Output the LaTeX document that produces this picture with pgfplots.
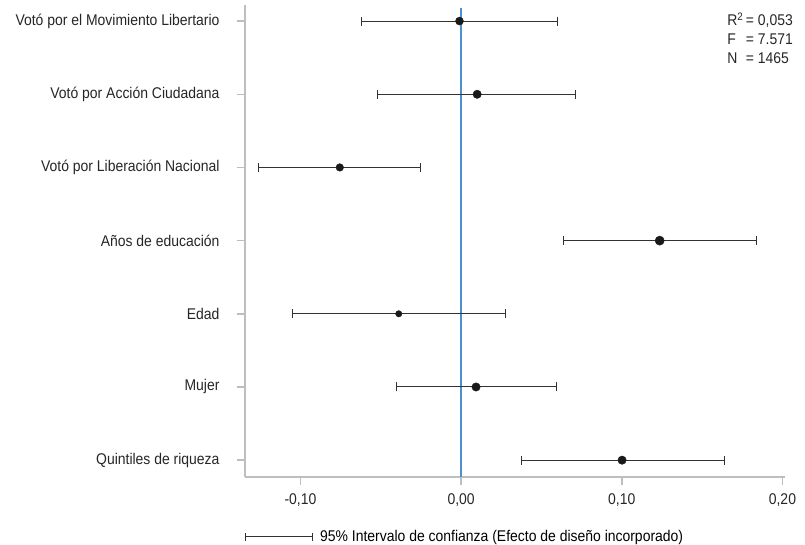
\documentclass[border=0pt]{standalone}
\usepackage{pgfplots}
\usepackage{pgfplotstable}
\pgfplotsset{compat=1.18}
\usepackage{fontspec}
\setmainfont{Liberation Sans}[FakeStretch=0.9]
\definecolor{axgray}{RGB}{190,190,190}
\definecolor{zeroblue}{RGB}{74,144,210}
\definecolor{barc}{RGB}{50,50,50}
\newcommand\lbl{\fontsize{15.5}{18}\selectfont}
\pgfplotstableread{
y x ep em s
6 -0.0010 0.0610 0.0610 4.0
5 0.0100 0.0610 0.0620 4.2
4 -0.0755 0.0505 0.0505 3.8
3 0.1236 0.0600 0.0600 4.6
2 -0.0388 0.0666 0.0661 3.2
1 0.0093 0.0501 0.0495 4.2
0 0.1002 0.0638 0.0629 4.2
}\data
\begin{document}
\begin{tikzpicture}
\path[use as bounding box] (0,0) rectangle (805pt,545pt);
\begin{axis}[
  at={(245pt,68pt)}, anchor=south west,
  scale only axis, width=540pt, height=472pt,
  xmin=-0.1345, xmax=0.2016, ymin=-0.23, ymax=6.22,
  axis x line*=bottom, axis y line*=left,
  axis line style={axgray, line width=1.5pt, -},
  tick align=outside, major tick length=8pt,
  tick style={axgray, line width=1.5pt},
  xtick={-0.1,0,0.1,0.2},
  xticklabels={{-0,10},{0,00},{0,10},{0,20}},
  ytick={0,1,2,3,4,5,6},
  yticklabels={Quintiles de riqueza, Mujer, Edad, Años de educación, Votó por Liberación Nacional, Votó por Acción Ciudadana, Votó por el Movimiento Libertario},
  ticklabel style={font=\lbl, text=black!85},
  yticklabel style={xshift=-14pt},
  xticklabel style={yshift=-5pt},
  legend style={at={(0,-0.127)}, anchor=west, draw=none, fill=none, inner sep=0pt, font=\lbl,
    nodes={inner xsep=7pt}},
  legend cell align=left,
  clip=false,
]
\addplot[zeroblue, line width=1.4pt, forget plot] coordinates {(0,-0.23) (0,6.18)};
\addplot[draw=none, mark=none,
  legend image code/.code={
    \draw[barc, line width=1pt] (0pt,0pt) -- (67pt,0pt);
    \draw[barc, line width=1pt] (0pt,-4pt) -- (0pt,4pt);
    \draw[barc, line width=1pt] (67pt,-4pt) -- (67pt,4pt);
  },
  error bars/.cd, x dir=both, x explicit,
  error mark=|,
  error bar style={draw=barc, line width=1pt},
  error mark options={draw=barc, line width=1pt, mark size=4.5pt}]
  table[x=x, y=y, x error plus=ep, x error minus=em] {\data};
\addlegendentry{95\% Intervalo de confianza (Efecto de diseño incorporado)}
\addplot[scatter, only marks, mark=*, forget plot,
  scatter/use mapped color={draw=black!90, fill=black!90},
  visualization depends on={\thisrow{s} \as \ms},
  scatter/@pre marker code/.append style={/tikz/mark size=\ms pt}]
  table[x=x, y=y] {\data};
\end{axis}
\node[anchor=north east, inner sep=0pt, text=black!85] at (793pt,533pt)
  {\fontsize{15.5}{19}\selectfont\begin{tabular}{@{}l@{\,}l@{}}R\textsuperscript{2} & = 0,053\\ F & = 7.571\\ N & = 1465\end{tabular}};
\end{tikzpicture}
\end{document}
